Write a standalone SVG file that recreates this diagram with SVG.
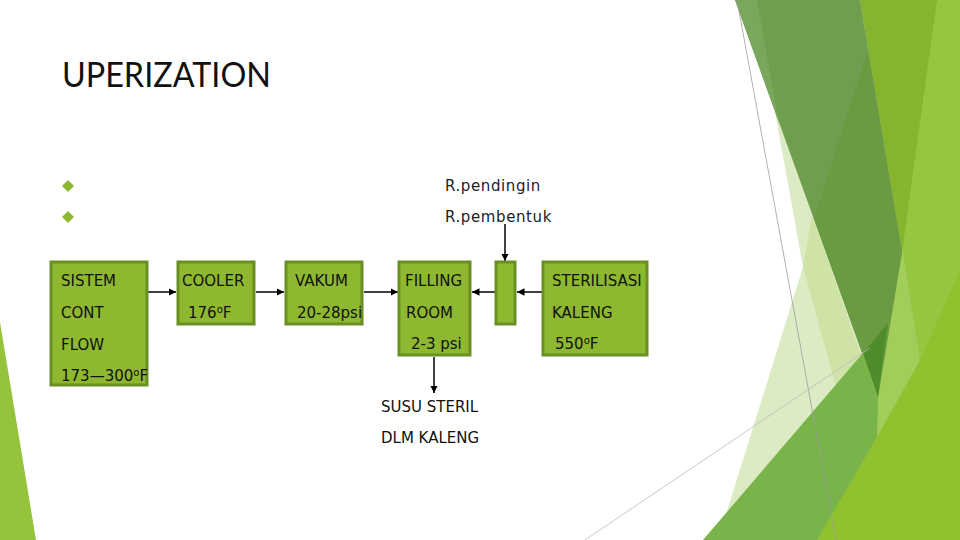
<svg xmlns="http://www.w3.org/2000/svg" width="960" height="540" viewBox="0 0 960 540">
<defs>
<style>
.box{fill:#8DB830;stroke:#6A8F22;stroke-width:3}
.t{font-family:"DejaVu Sans","Liberation Sans",sans-serif;font-size:15px;fill:#111}
.lbl{font-family:"DejaVu Sans","Liberation Sans",sans-serif;font-size:15px;fill:#222;letter-spacing:0.6px}
.c{stroke:#000;stroke-width:1.5;fill:none;marker-end:url(#ah)}
.sup{font-size:10px}
</style>
<marker id="ah" viewBox="0 0 10 10" refX="10" refY="5" markerWidth="5" markerHeight="5" orient="auto" markerUnits="strokeWidth">
<path d="M0,0 L10,5 L0,10 z" fill="#000"/>
</marker>
</defs>
<rect width="960" height="540" fill="#fff"/>
<g id="background">
<polygon points="0,322 36,540 0,540" fill="#95C43C"/>
<polygon points="860,0 960,0 960,540 817,540 878,397 902,252" fill="#97C53F"/>
<polygon points="920,360 960,270 960,540 817,540 877,437" fill="#92C12F"/>
<polygon points="902,247 920,360 877,437 878,397" fill="#A2CD5B"/>
<polygon points="860,0 937,0 902,252" fill="#86B42F"/>
<polygon points="772,95 803,267 718,540 760,540 875,390 800,80" fill="#DDEBC4"/>
<polygon points="803,267 812,215 870,380 836,387" fill="#D0E3A7"/>
<polygon points="735,0 860,0 902,252 878,397" fill="#6F9E4E"/>
<polygon points="735,0 757,0 779,123" fill="#79A75C"/>
<polygon points="868,50 902,252 878,397 814,219" fill="#6A9A41"/>
<polygon points="703,540 863,353 888,323 878,397 877,437 817,540" fill="#79B44A"/>
<polygon points="863,353 888,323 878,397" fill="#4F8C2A"/>
<line x1="737" y1="0" x2="836" y2="540" stroke="#9C9C9C" stroke-width="0.8"/>
<line x1="585" y1="540" x2="870" y2="348" stroke="#BDBDBD" stroke-width="0.8"/>
</g>
<text x="62" y="87" font-family="Lato,'Open Sans',sans-serif" font-size="35" fill="#111" textLength="209" lengthAdjust="spacingAndGlyphs">UPERIZATION</text>
<g id="bullets" fill="#8DB832">
<polygon points="68,180 74,186 68,192 62,186"/>
<polygon points="68,211 74,217 68,223 62,217"/>
</g>
<text class="lbl" x="445" y="191">R.pendingin</text>
<text class="lbl" x="445" y="222">R.pembentuk</text>
<g id="connectors">
<line class="c" x1="148" y1="292" x2="176" y2="292"/>
<line class="c" x1="256" y1="292" x2="284" y2="292"/>
<line class="c" x1="364" y1="292" x2="398" y2="292"/>
<line class="c" x1="495" y1="292" x2="472" y2="292"/>
<line class="c" x1="542" y1="292" x2="517" y2="292"/>
<line class="c" x1="505" y1="224" x2="505" y2="261"/>
<line class="c" x1="434" y1="357" x2="434" y2="393"/>
</g>
<g id="sistem">
<rect class="box" x="51" y="262" width="96" height="123"/>
<text class="t" x="61" y="286">SISTEM</text>
<text class="t" x="61" y="318">CONT</text>
<text class="t" x="61" y="350">FLOW</text>
<text class="t" x="61" y="381">173—300<tspan class="sup" dy="-5">o</tspan><tspan dy="5">F</tspan></text>
</g>
<g id="cooler">
<rect class="box" x="178" y="262" width="76" height="62"/>
<text class="t" x="182" y="286">COOLER</text>
<text class="t" x="188" y="318">176<tspan class="sup" dy="-5">o</tspan><tspan dy="5">F</tspan></text>
</g>
<g id="vakum">
<rect class="box" x="286" y="262" width="76" height="62"/>
<text class="t" x="295" y="286">VAKUM</text>
<text class="t" x="297" y="318">20-28psi</text>
</g>
<g id="filling">
<rect class="box" x="399" y="262" width="71" height="93"/>
<text class="t" x="405" y="286">FILLING</text>
<text class="t" x="406" y="318">ROOM</text>
<text class="t" x="411" y="349">2-3 psi</text>
</g>
<g id="pembentuk">
<rect class="box" x="496" y="262" width="19" height="62"/>
</g>
<g id="sterilisasi">
<rect class="box" x="543" y="262" width="104" height="93"/>
<text class="t" x="552" y="286">STERILISASI</text>
<text class="t" x="552" y="318">KALENG</text>
<text class="t" x="555" y="349">550<tspan class="sup" dy="-5">o</tspan><tspan dy="5">F</tspan></text>
</g>
<g id="susu">
<text class="t" x="381" y="412">SUSU STERIL</text>
<text class="t" x="381" y="443">DLM KALENG</text>
</g>
</svg>
